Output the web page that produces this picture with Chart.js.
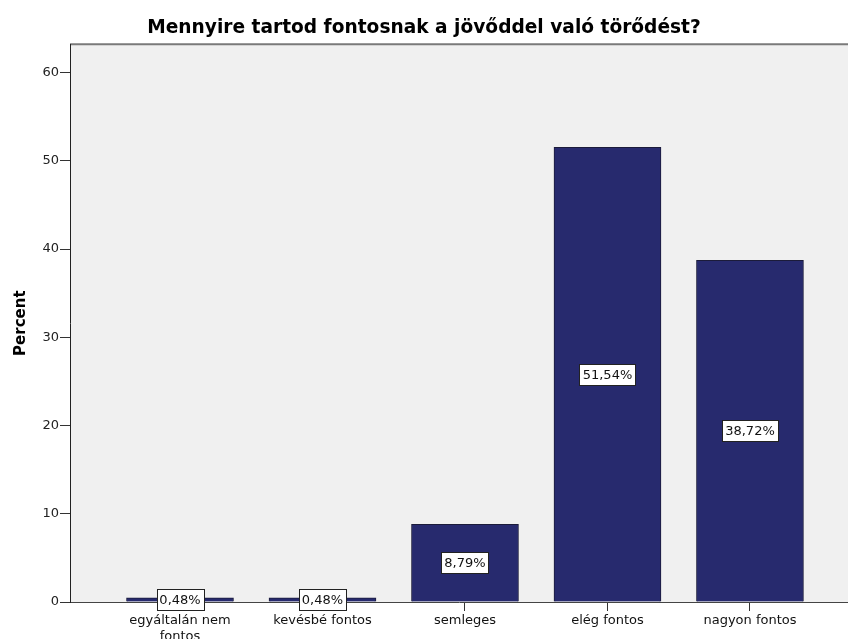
<!DOCTYPE html>
<html>
<head>
<meta charset="utf-8">
<script src="https://cdn.jsdelivr.net/npm/chart.js@4.4.1/dist/chart.umd.min.js"></script>
<style>
  body { margin: 0; background: #fff; }
</style>
</head>
<body>
<canvas id="myChart" width="848" height="639"></canvas>
<script>
var categories = ['egyáltalán nem fontos', 'kevésbé fontos', 'semleges', 'elég fontos', 'nagyon fontos'];
var percentVal = [0.48, 0.48, 8.79, 51.54, 38.72];
var yTicks = [0, 10, 20, 30, 40, 50, 60];

var FONT = '"DejaVu Sans", Verdana, sans-serif';

var barData = [];
for (var i = 0; i < categories.length; i++) {
  barData.push({ x: i, y: percentVal[i] });
}

// grey plot background + top frame line
var plotBg = {
  id: 'plotBg',
  beforeDraw: function (chart) {
    var a = chart.chartArea, ctx = chart.ctx;
    ctx.save();
    ctx.fillStyle = '#f0f0f0';
    ctx.fillRect(a.left, a.top, a.right - a.left, a.bottom - a.top);
    ctx.strokeStyle = '#7a7a7a';
    ctx.lineWidth = 2;
    ctx.beginPath();
    ctx.moveTo(a.left, a.top);
    ctx.lineTo(a.right, a.top);
    ctx.stroke();
    ctx.restore();
  }
};

// boxed value labels in the middle of each bar
var boxLabels = {
  id: 'boxLabels',
  afterDatasetsDraw: function (chart) {
    var ctx = chart.ctx;
    var meta = chart.getDatasetMeta(0);
    ctx.save();
    ctx.font = '13px ' + FONT;
    ctx.textAlign = 'center';
    ctx.textBaseline = 'middle';
    meta.data.forEach(function (bar, idx) {
      var txt = percentVal[idx].toFixed(2).replace('.', ',') + '%';
      var cy = (bar.y + bar.base) / 2;
      var w = Math.round(ctx.measureText(txt).width + 6);
      var h = 21;
      var bx = Math.round(bar.x - w / 2) + 0.5, by = Math.round(cy - h / 2) + 0.5;
      ctx.fillStyle = '#ffffff';
      ctx.fillRect(bx, by, w, h);
      ctx.strokeStyle = '#222';
      ctx.lineWidth = 1;
      ctx.strokeRect(bx, by, w, h);
      ctx.fillStyle = '#111';
      ctx.fillText(txt, bar.x, cy + 1);
    });
    ctx.restore();
  }
};

var myChart = new Chart(document.getElementById('myChart'), {
  type: 'bar',
  data: {
    datasets: [{
      label: 'Percent',
      data: barData,
      backgroundColor: '#272a6e',
      borderColor: '#1b1b3a',
      borderWidth: 1,
      barThickness: 107
    }]
  },
  plugins: [plotBg, boxLabels],
  options: {
    responsive: false,
    animation: false,
    layout: { padding: 0 },
    plugins: {
      legend: { display: false },
      tooltip: { enabled: false },
      title: {
        display: true,
        text: 'Mennyire tartod fontosnak a jövőddel való törődést?',
        color: '#000',
        font: { family: FONT, size: 18.6, weight: 'bold' },
        padding: { top: 17, bottom: 5 }
      }
    },
    scales: {
      x: {
        type: 'linear',
        offset: false,
        min: -0.772,
        max: 4.688,
        afterBuildTicks: function (scale) {
          scale.ticks = categories.map(function (c, i) { return { value: i }; });
        },
        afterFit: function (scale) { scale.height = 37; },
        grid: { offset: false, drawOnChartArea: false, drawTicks: true, tickLength: 9, color: '#333' },
        border: { display: true, color: '#444', width: 1 },
        ticks: {
          padding: 2,
          color: '#111',
          maxRotation: 0,
          autoSkip: false,
          font: { family: FONT, size: 13 },
          callback: function (v) {
            var s = categories[v];
            if (s.length > 15) {
              var k = s.lastIndexOf(' ');
              return [s.slice(0, k), s.slice(k + 1)];
            }
            return s;
          }
        }
      },
      y: {
        min: 0,
        max: 63.2,
        afterBuildTicks: function (scale) {
          scale.ticks = yTicks.map(function (t) { return { value: t }; });
        },
        afterFit: function (scale) { scale.width = 70; },
        grid: { drawOnChartArea: false, drawTicks: true, tickLength: 10, color: '#333' },
        border: { display: true, color: '#222', width: 1 },
        ticks: {
          padding: 1,
          color: '#222',
          font: { family: FONT, size: 13 }
        },
        title: {
          display: true,
          text: 'Percent',
          color: '#000',
          padding: { top: 12 },
          font: { family: FONT, size: 15, weight: 'bold' }
        }
      }
    }
  }
});
</script>
</body>
</html>
